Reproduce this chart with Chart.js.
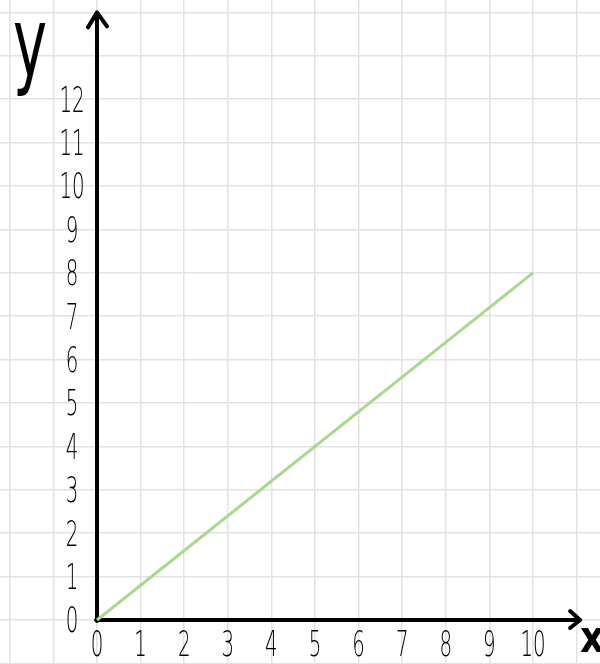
<!DOCTYPE html>
<html>
<head>
<meta charset="utf-8">
<script src="https://cdn.jsdelivr.net/npm/chart.js@4.4.1/dist/chart.umd.min.js"></script>
<style>
  html, body { margin: 0; padding: 0; background: #fff; }
  #wrap { width: 600px; height: 664px; position: relative; }
</style>
</head>
<body>
<div id="wrap"><canvas id="chart"></canvas></div>
<script>
"use strict";

// line data
const xValues = [0, 10];
const yValues = [0, 8];

// tick labels written along the axes
const xTickLabels = ["0", "1", "2", "3", "4", "5", "6", "7", "8", "9", "10"];
const yTickLabels = ["0", "1", "2", "3", "4", "5", "6", "7", "8", "9", "10", "11", "12"];

const X_NAME = "x";
const Y_NAME = "y";

const LINE_COLOR = "#a6da8c";
const GRID_COLOR = "#e2e2e2";
const INK = "#000";

function intTicks(scale) {
  const out = [];
  for (let v = Math.ceil(scale.min); v <= Math.floor(scale.max); v++) out.push({ value: v });
  scale.ticks = out;
}

function drawScaledText(ctx, text, x, y, font, sx, align, baseline) {
  ctx.save();
  ctx.translate(x, y);
  ctx.scale(sx, 1);
  ctx.font = font;
  ctx.textAlign = align;
  ctx.textBaseline = baseline;
  ctx.fillStyle = INK;
  ctx.fillText(text, 0, 0);
  ctx.restore();
}

// black axes with arrow heads, drawn under the line
const axesPlugin = {
  id: "axes",
  beforeDatasetsDraw(chart) {
    const { ctx, scales: { x, y } } = chart;
    const x0 = x.getPixelForValue(0);
    const y0 = y.getPixelForValue(0);
    const yTop = y.getPixelForValue(14);
    const xEnd = x.getPixelForValue(11.08);
    ctx.save();
    ctx.strokeStyle = INK;
    ctx.lineWidth = 4;
    ctx.lineCap = "round";
    ctx.lineJoin = "round";
    ctx.beginPath();
    ctx.moveTo(x0, y0 + 1);
    ctx.lineTo(x0, yTop);
    ctx.moveTo(x0 - 9, yTop + 15);
    ctx.lineTo(x0, yTop);
    ctx.lineTo(x0 + 10, yTop + 14);
    ctx.moveTo(x0 - 1, y0);
    ctx.lineTo(xEnd, y0);
    ctx.moveTo(xEnd - 10, y0 - 9);
    ctx.lineTo(xEnd, y0);
    ctx.lineTo(xEnd - 10, y0 + 8);
    ctx.stroke();
    ctx.restore();
  },
  afterDraw(chart) {
    const { ctx, scales: { x, y } } = chart;
    const x0 = x.getPixelForValue(0);
    const y0 = y.getPixelForValue(0);
    const tickFont = "200 36px 'DejaVu Sans'";
    yTickLabels.forEach((t, i) => {
      drawScaledText(ctx, t, x0 - 25, y.getPixelForValue(i) + 3, tickFont, 0.55, "center", "middle");
    });
    xTickLabels.forEach((t, i) => {
      drawScaledText(ctx, t, x.getPixelForValue(i), y0 + 27, tickFont, 0.55, "center", "middle");
    });
    drawScaledText(ctx, Y_NAME, 30, 76, "96px 'DejaVu Sans'", 0.6, "center", "alphabetic");
    drawScaledText(ctx, X_NAME, 580, 652, "bold 44px 'DejaVu Sans'", 0.85, "left", "alphabetic");
  },
};

new Chart(document.getElementById("chart"), {
  type: "line",
  data: {
    datasets: [{
      data: xValues.map((v, i) => ({ x: v, y: yValues[i] })),
      borderColor: LINE_COLOR,
      borderWidth: 3,
      pointRadius: 0,
      tension: 0,
    }],
  },
  options: {
    responsive: true,
    maintainAspectRatio: false,
    animation: false,
    layout: { padding: 0 },
    plugins: { legend: { display: false }, tooltip: { enabled: false } },
    scales: {
      x: {
        type: "linear",
        min: -97 / 43.6,
        max: (600 - 97) / 43.6,
        afterBuildTicks: intTicks,
        ticks: { display: false },
        border: { display: false },
        grid: { color: GRID_COLOR, lineWidth: 1.5, drawTicks: false },
      },
      y: {
        type: "linear",
        min: -(664 - 620) / 43.4,
        max: 620 / 43.4,
        afterBuildTicks: intTicks,
        ticks: { display: false },
        border: { display: false },
        grid: { color: GRID_COLOR, lineWidth: 1.5, drawTicks: false },
      },
    },
  },
  plugins: [axesPlugin],
});
</script>
</body>
</html>
